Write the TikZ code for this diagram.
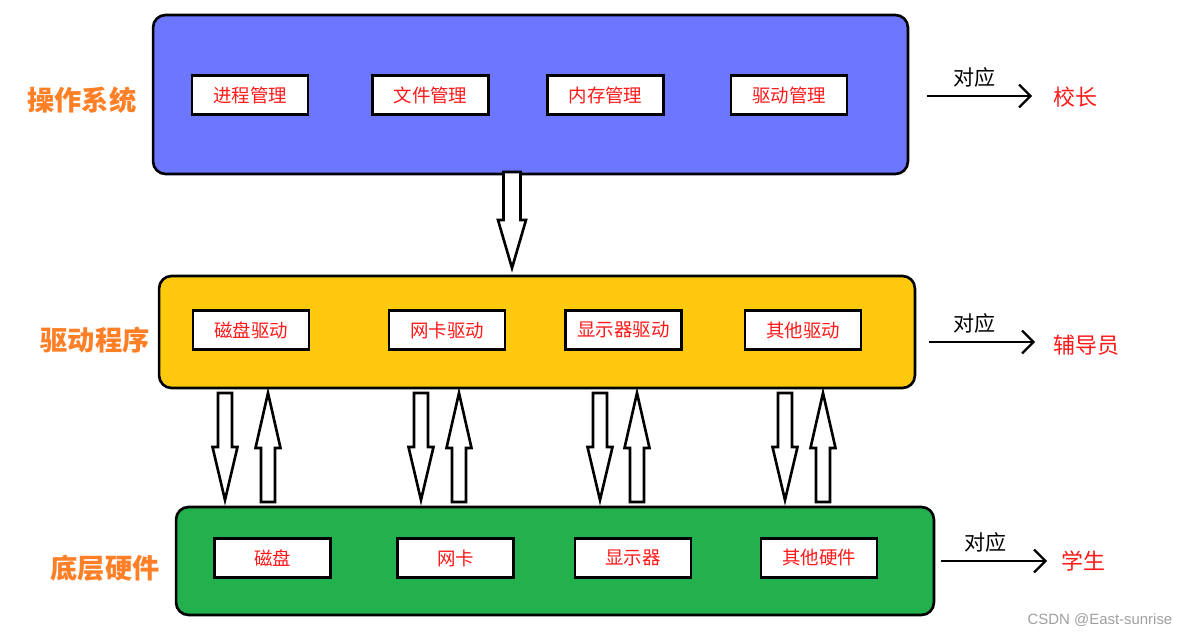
\documentclass[tikz,border=0pt]{standalone}
\usepackage{fontspec}
\setmainfont{Noto Sans CJK SC}
\newfontfamily\markfont{Liberation Sans}
\usetikzlibrary{arrows.meta}
\definecolor{osblue}{RGB}{108,118,255}
\definecolor{drvyellow}{RGB}{255,201,14}
\definecolor{hwgreen}{RGB}{34,177,76}
\definecolor{nameorange}{RGB}{255,127,39}
\definecolor{partred}{RGB}{255,25,25}
% hollow block arrow: x, tail y, head base y, tip y, shaft half width, head half width
\newcommand{\hollowarrow}[6]{%
  \draw[blockarrow] (#1-#5,#2) -- (#1-#5,#3) -- (#1-#6,#3) -- (#1,#4) -- (#1+#6,#3) -- (#1+#5,#3) -- (#1+#5,#2) -- cycle;}
\begin{document}
\begin{tikzpicture}[x=0.02cm, y=-0.02cm, line join=miter,
		layer/.style={draw, line width=1.5pt, rounded corners=0.25cm, inner sep=0pt},
		partbox/.style={draw, fill=white, line width=1.5pt, minimum width=2.32cm, minimum height=0.78cm, text=partred, font=\fontsize{10.5}{12}\selectfont},
		layername/.style={text=nameorange, font=\bfseries\fontsize{15.5}{18}\selectfont},
		role/.style={text=partred, inner sep=0pt, anchor=west, font=\fontsize{12.5}{14}\selectfont},
		corr/.style={-{Straight Barb[length=6.5pt,width=13pt]}, line width=1.3pt},
		corrtext/.style={above=1pt, font=\fontsize{12}{14}\selectfont},
		blockarrow/.style={draw, fill=white, line width=1.5pt}]
		\useasboundingbox (0,0) rectangle (1184,634);
		% layers
		\node[layer, fill=osblue, minimum width=15.1cm, minimum height=3.18cm] (os) at (530.5,94.5) {};
		\node[layer, fill=drvyellow, minimum width=15.12cm, minimum height=2.24cm] (drv) at (537,332) {};
		\node[layer, fill=hwgreen, minimum width=15.16cm, minimum height=2.16cm] (hw) at (555,561) {};
		\node[layername] (osname) at (82,100) {操作系统};
		\node[layername] (drvname) at (95,340) {驱动程序};
		\node[layername] (hwname) at (105,568) {底层硬件};
		% operating system
		\node[partbox] (proc) at (250,95) {进程管理};
		\node[partbox] (file) at (430.5,95) {文件管理};
		\node[partbox] (mem) at (605.5,95) {内存管理};
		\node[partbox] (drvm) at (789,95) {驱动管理};
		% drivers
		\node[partbox] (diskd) at (251,330) {磁盘驱动};
		\node[partbox] (nicd) at (447,330) {网卡驱动};
		\node[partbox] (dispd) at (623.5,330) {显示器驱动};
		\node[partbox] (otherd) at (803,330) {其他驱动};
		% hardware
		\node[partbox] (disk) at (272.5,558) {磁盘};
		\node[partbox] (nic) at (455.5,558) {网卡};
		\node[partbox] (disp) at (633,558) {显示器};
		\node[partbox] (other) at (819,558) {其他硬件};
		% block arrows
		\hollowarrow{512}{172}{220}{268}{8.5}{14}
		\foreach \xd/\xu in {225/268, 421/459, 600/637, 785/823} {
			\hollowarrow{\xd}{393}{447}{500}{7}{12.5}
			\hollowarrow{\xu}{502}{448}{393}{7}{12.5}
		}
		% school roles
		\node[role] (head) at (1053,97) {校长};
		\node[role] (tutor) at (1053,345) {辅导员};
		\node[role] (student) at (1061,561) {学生};
		\coordinate (s1) at (927,96);
		\coordinate (s2) at (929,342);
		\coordinate (s3) at (941,561);
		\draw[corr, shorten >=0.42cm] (s1) -- (s1-|head.west) node[corrtext, pos=0.38] (c1) {对应};
		\draw[corr, shorten >=0.36cm] (s2) -- (s2-|tutor.west) node[corrtext, pos=0.37] (c2) {对应};
		\draw[corr, shorten >=0.28cm] (s3) -- (s3-|student.west) node[corrtext, pos=0.37] (c3) {对应};
		\node[text=gray!75, font=\markfont\fontsize{8.5}{10}\selectfont] (mark) at (1100,620) {CSDN @East-sunrise};
\end{tikzpicture}
\end{document}
